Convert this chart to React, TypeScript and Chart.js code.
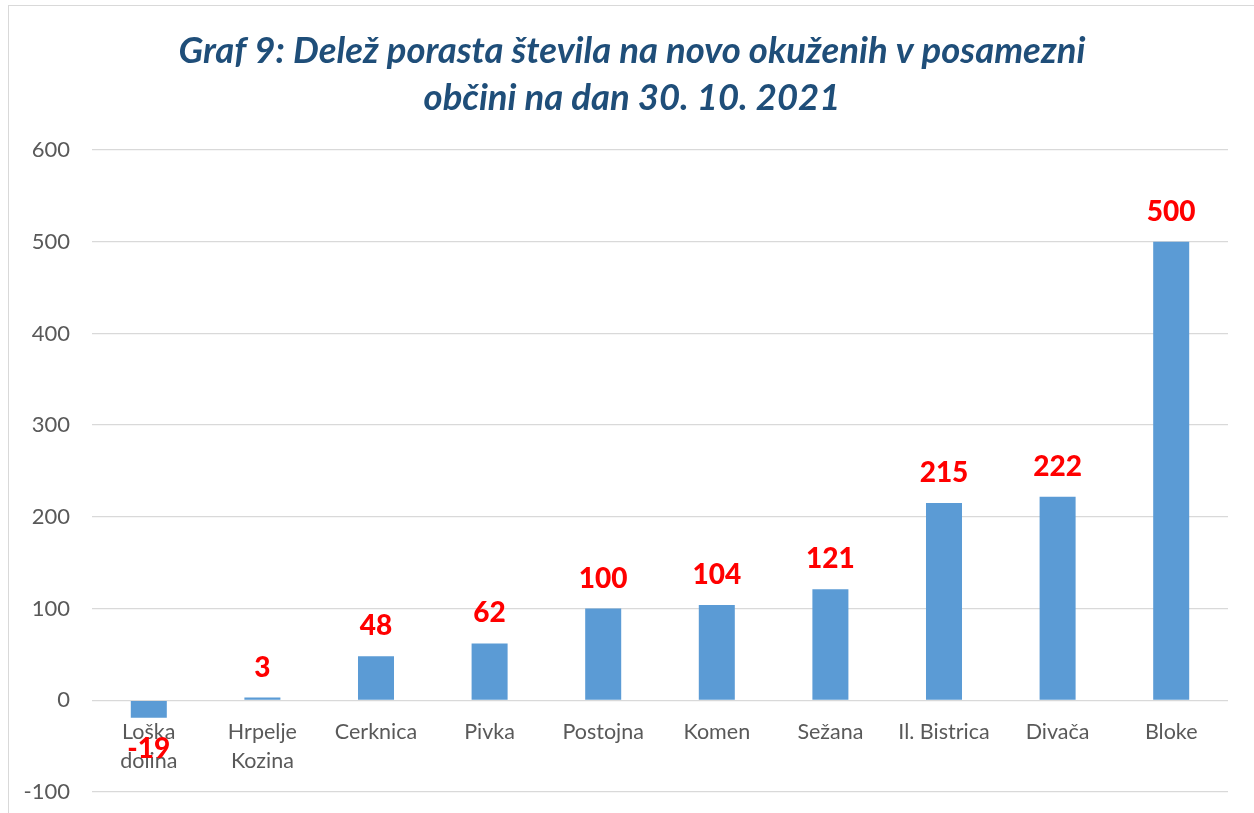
import React, { useEffect, useRef } from "react";
import { Chart, registerables } from "chart.js";

Chart.register(...registerables);

const categories: (string | string[])[] = [
  ["Loška", "dolina"],
  ["Hrpelje", "Kozina"],
  "Cerknica",
  "Pivka",
  "Postojna",
  "Komen",
  "Sežana",
  "Il. Bistrica",
  "Divača",
  "Bloke",
];
const values: number[] = [-19, 3, 48, 62, 100, 104, 121, 215, 222, 500];
const titleLines: string[] = [
  "Graf 9: Delež porasta števila na novo okuženih v posamezni",
  "občini na dan 30. 10. 2021",
];
const yMin = -100;
const yMax = 600;
const yStep = 100;

const FONT = "Lato, 'Open Sans', sans-serif";

const titlePlugin = {
  id: "customTitle",
  afterDraw(chart: any) {
    const ctx = chart.ctx;
    ctx.save();
    ctx.fillStyle = "#1F4E79";
    ctx.font = `italic bold 36.5px ${FONT}`;
    ctx.textAlign = "center";
    ctx.textBaseline = "middle";
    titleLines.forEach((line, i) => {
      ctx.fillText(line, 632, 51 + i * 47);
    });
    ctx.restore();
  },
};

const valueLabels = {
  id: "valueLabels",
  afterDatasetsDraw(chart: any) {
    const ctx = chart.ctx;
    const meta = chart.getDatasetMeta(0);
    ctx.save();
    ctx.fillStyle = "#FF0000";
    ctx.font = `900 28px ${FONT}`;
    ctx.textAlign = "center";
    ctx.textBaseline = "middle";
    meta.data.forEach((bar: any, i: number) => {
      const v = values[i];
      const y = v >= 0 ? bar.y - 30 : bar.y + 31;
      ctx.fillText(String(v), bar.x, y);
    });
    ctx.restore();
  },
};

export default function App() {
  const ref = useRef<HTMLCanvasElement | null>(null);
  useEffect(() => {
    if (!ref.current) return;
    const chart = new Chart(ref.current, {
      type: "bar",
      data: {
        labels: categories,
        datasets: [
          {
            data: values,
            backgroundColor: "#5B9BD5",
            borderWidth: 0,
            categoryPercentage: 1,
            barPercentage: 0.317,
          },
        ],
      },
      options: {
        animation: false,
        responsive: false,
        maintainAspectRatio: false,
        layout: { padding: { left: 0, right: 26, top: 150, bottom: 21 } },
        plugins: {
          legend: { display: false },
          tooltip: { enabled: false },
          title: { display: false },
        },
        scales: {
          x: {
            position: { y: 0 } as any,
            grid: { display: false, drawTicks: false },
            border: { display: false },
            afterFit(scale: any) {
              scale.paddingTop = 0;
              scale.paddingBottom = 0;
            },
            ticks: {
              color: "#595959",
              font: { family: FONT, size: 21.5, lineHeight: 1.35 },
              padding: 17,
              maxRotation: 0,
              autoSkip: false,
            },
          },
          y: {
            min: yMin,
            max: yMax,
            grid: { color: "#D9D9D9", lineWidth: 1.3, drawTicks: false },
            border: { display: false },
            afterFit(scale: any) {
              scale.width = 92;
              scale.paddingTop = 0;
              scale.paddingBottom = 0;
            },
            ticks: {
              stepSize: yStep,
              color: "#595959",
              font: { family: FONT, size: 22 },
              padding: 22,
            },
          },
        },
      },
      plugins: [valueLabels, titlePlugin],
    });
    return () => chart.destroy();
  }, []);

  return (
    <div style={{ position: "absolute", left: 0, top: 0, width: 1254, height: 813, overflow: "hidden", background: "#fff" }}>
      <div
        style={{
          position: "absolute",
          left: 8,
          top: 5,
          width: 1400,
          height: 1000,
          border: "1px solid #D9D9D9",
        }}
      />
      <canvas ref={ref} width={1254} height={813} style={{ position: "absolute", left: 0, top: 0 }} />
    </div>
  );
}
